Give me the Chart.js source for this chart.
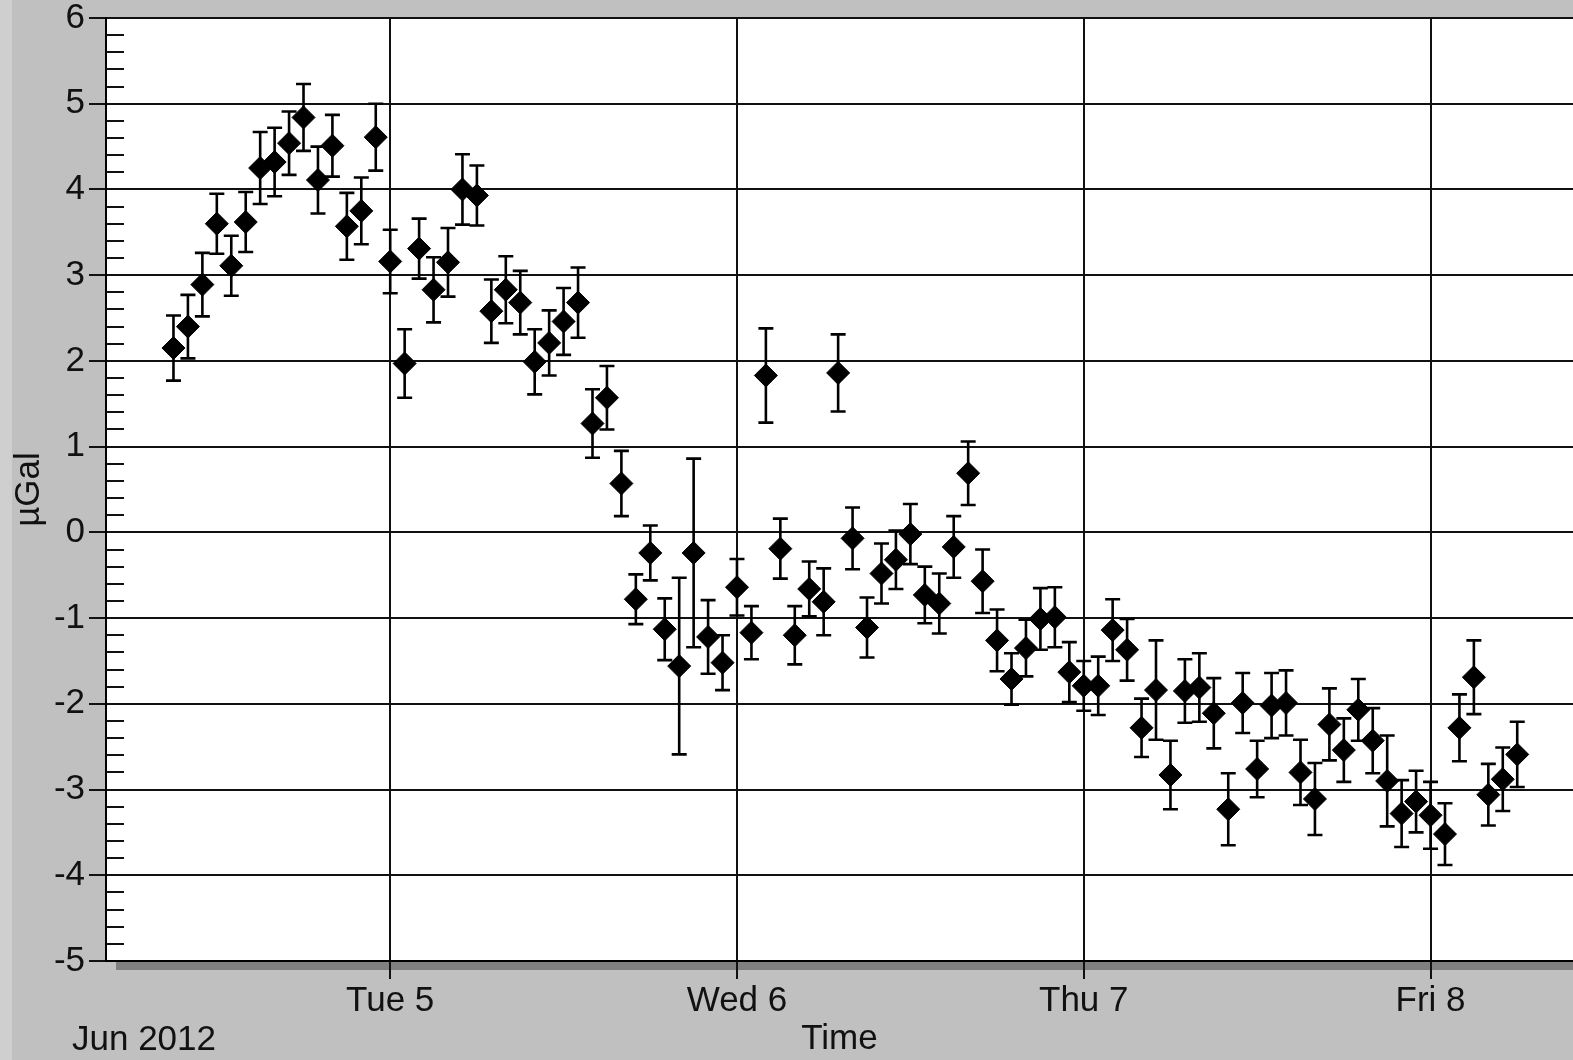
<!DOCTYPE html>
<html>
<head>
<meta charset="utf-8">
<title>µGal residuals, June 2012</title>
<script src="https://cdn.jsdelivr.net/npm/chart.js@4.4.1/dist/chart.umd.min.js"></script>
<style>
  html, body { margin: 0; padding: 0; background: #c0c0c0; overflow: hidden; }
  canvas { display: block; }
</style>
</head>
<body>
<canvas id="chart" width="1573" height="1060"></canvas>
<script>
/* hourly samples, x = hours since Mon 4 Jun 2012 00:00 */
const hours = [
  9, 10, 11, 12, 13, 14, 15, 16, 17, 18, 19, 20, 21, 22, 23,
  24, 25, 26, 27, 28, 29, 30, 31, 32, 33, 34, 35, 36, 37, 38, 39, 40, 41, 42, 43, 44, 45, 46, 47,
  48, 49, 50, 51, 52, 53, 54, 55, 56, 57, 58, 59, 60, 61, 62, 63, 64, 65, 66, 67, 68, 69, 70, 71,
  72, 73, 74, 75, 76, 77, 78, 79, 80, 81, 82, 83, 84, 85, 86, 87, 88, 89, 90, 91, 92, 93, 94, 95,
  96, 97, 98, 99, 100, 101, 102
];
const values = [
  2.15, 2.40, 2.89, 3.60, 3.11, 3.62, 4.25, 4.32, 4.54, 4.84, 4.11, 4.51, 3.57, 3.75, 4.61,
  3.16, 1.97, 3.31, 2.83, 3.15, 4.00, 3.93, 2.58, 2.83, 2.68, 1.99, 2.21, 2.46, 2.68, 1.27, 1.57, 0.57, -0.78, -0.24, -1.13, -1.56, -0.24, -1.22, -1.52,
  -0.64, -1.17, 1.83, -0.19, -1.20, -0.66, -0.81, 1.86, -0.07, -1.11, -0.48, -0.32, -0.02, -0.73, -0.83, -0.17, 0.69, -0.57, -1.26, -1.71, -1.35, -1.01, -0.99, -1.63,
  -1.79, -1.79, -1.14, -1.37, -2.28, -1.84, -2.83, -1.85, -1.81, -2.11, -3.23, -1.99, -2.76, -2.02, -1.99, -2.80, -3.11, -2.24, -2.54, -2.07, -2.43, -2.90, -3.28, -3.14,
  -3.30, -3.52, -2.28, -1.69, -3.06, -2.88, -2.59
];
const errors = [
  0.38, 0.37, 0.37, 0.35, 0.35, 0.35, 0.42, 0.40, 0.37, 0.39, 0.39, 0.36, 0.39, 0.39, 0.39,
  0.37, 0.40, 0.35, 0.38, 0.40, 0.41, 0.35, 0.37, 0.39, 0.37, 0.38, 0.38, 0.39, 0.41, 0.40, 0.37, 0.38, 0.29, 0.32, 0.36, 1.03, 1.10, 0.43, 0.32,
  0.33, 0.31, 0.55, 0.35, 0.34, 0.32, 0.39, 0.45, 0.36, 0.35, 0.35, 0.34, 0.35, 0.33, 0.35, 0.36, 0.37, 0.37, 0.36, 0.30, 0.33, 0.36, 0.35, 0.35,
  0.29, 0.34, 0.36, 0.36, 0.34, 0.58, 0.40, 0.37, 0.40, 0.41, 0.42, 0.35, 0.33, 0.38, 0.38, 0.38, 0.42, 0.42, 0.37, 0.36, 0.38, 0.53, 0.39, 0.36,
  0.39, 0.36, 0.39, 0.43, 0.36, 0.37, 0.38
];
const dayTicks = [24, 48, 72, 96];
const dayLabels = ['Tue 5', 'Wed 6', 'Thu 7', 'Fri 8'];
const monthLabel = 'Jun 2012';

const FONT = '"Liberation Sans", Arial, sans-serif';
const INK = '#111';

// grey frame, white plot area and the drop shadow under the x axis
const backdrop = {
  id: 'backdrop',
  beforeDraw(chart) {
    const { ctx, chartArea: a, width, height } = chart;
    ctx.save();
    ctx.fillStyle = '#c0c0c0';
    ctx.fillRect(0, 0, width, height);
    ctx.fillStyle = '#cfcfcf';
    ctx.fillRect(0, 0, 12, height);
    ctx.fillStyle = '#ffffff';
    ctx.fillRect(a.left, a.top, a.right - a.left, a.bottom - a.top);
    ctx.fillStyle = '#808080';
    ctx.fillRect(a.left + 10, a.bottom, a.right - a.left, 9);
    ctx.restore();
  }
};

// vertical error bars with caps, under the diamonds
const errorBars = {
  id: 'errorBars',
  beforeDatasetsDraw(chart) {
    const { ctx, chartArea: a, scales: { x, y } } = chart;
    ctx.save();
    ctx.beginPath();
    ctx.rect(a.left, a.top, a.right - a.left, a.bottom - a.top);
    ctx.clip();
    ctx.strokeStyle = '#000';
    ctx.lineWidth = 2.6;
    hours.forEach((h, i) => {
      const px = x.getPixelForValue(h);
      const top = y.getPixelForValue(values[i] + errors[i]);
      const bot = y.getPixelForValue(values[i] - errors[i]);
      ctx.beginPath();
      ctx.moveTo(px, top); ctx.lineTo(px, bot);
      ctx.moveTo(px - 7.5, top); ctx.lineTo(px + 7.5, top);
      ctx.moveTo(px - 7.5, bot); ctx.lineTo(px + 7.5, bot);
      ctx.stroke();
    });
    ctx.restore();
  }
};

// minor y ticks every 0.2, pointing into the plot
const minorTicks = {
  id: 'minorTicks',
  beforeDatasetsDraw(chart) {
    const { ctx, chartArea: a, scales: { y } } = chart;
    ctx.save();
    ctx.strokeStyle = INK;
    ctx.lineWidth = 2;
    for (let i = y.min * 5; i <= y.max * 5; i++) {
      if (i % 5 === 0) continue;
      const py = Math.round(y.getPixelForValue(i / 5));
      ctx.beginPath();
      ctx.moveTo(a.left, py);
      ctx.lineTo(a.left + 18, py);
      ctx.stroke();
    }
    ctx.restore();
  }
};

const monthText = {
  id: 'monthText',
  afterDraw(chart) {
    const { ctx } = chart;
    ctx.save();
    ctx.font = '35px ' + FONT;
    ctx.fillStyle = INK;
    ctx.textAlign = 'left';
    ctx.textBaseline = 'alphabetic';
    ctx.fillText(monthLabel, 72, 1050);
    ctx.restore();
  }
};

new Chart(document.getElementById('chart'), {
  type: 'scatter',
  data: {
    datasets: [{
      data: hours.map((h, i) => ({ x: h, y: values[i] })),
      pointStyle: 'rectRot',
      pointRadius: 11.5,
      pointHoverRadius: 11.5,
      backgroundColor: '#000',
      borderColor: '#000',
      borderWidth: 1
    }]
  },
  options: {
    responsive: false,
    animation: false,
    devicePixelRatio: 1,
    layout: { autoPadding: false, padding: { top: 18, left: 0, right: 0, bottom: 0 } },
    plugins: { legend: { display: false }, tooltip: { enabled: false } },
    scales: {
      x: {
        type: 'linear',
        min: 4.33,
        max: 105.86,
        afterBuildTicks: s => { s.ticks = dayTicks.map(v => ({ value: v })); },
        afterFit: s => { s.height = 99; },
        ticks: {
          callback: (v, i) => dayLabels[i],
          autoSkip: false,
          maxRotation: 0,
          padding: 1,
          color: INK,
          font: { family: FONT, size: 35 }
        },
        grid: { color: INK, lineWidth: 2, tickLength: 18 },
        border: { display: true, color: '#000', width: 2 },
        title: {
          display: true, text: 'Time', color: INK,
          font: { family: FONT, size: 35 },
          padding: { top: 0, bottom: 0 }
        }
      },
      y: {
        min: -5,
        max: 6,
        afterFit: s => { s.width = 106; },
        ticks: {
          stepSize: 1,
          padding: 4,
          color: INK,
          font: { family: FONT, size: 35, lineHeight: 0.5 }
        },
        grid: { color: INK, lineWidth: 2, tickLength: 17 },
        border: { display: true, color: '#000', width: 2 },
        title: {
          display: true, text: 'µGal', color: INK,
          font: { family: FONT, size: 35 },
          padding: { top: 8, bottom: 0 }
        }
      }
    }
  },
  plugins: [backdrop, errorBars, minorTicks, monthText]
});
</script>
</body>
</html>
